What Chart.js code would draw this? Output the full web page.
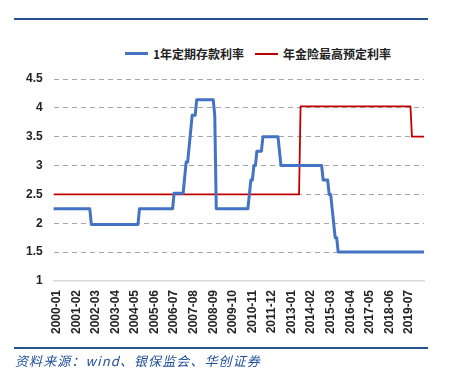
<!DOCTYPE html>
<html>
<head>
<meta charset="utf-8">
<script src="https://cdn.jsdelivr.net/npm/chart.js@4"></script>
<style>
  body { margin: 0; background: #fff; }
  #wrap { position: relative; width: 449px; height: 374px; background: #fff; overflow: hidden; }
  #chart { position: absolute; left: 0; top: 0; }
  .rule { position: absolute; left: 14px; width: 414px; height: 2px; background: #24538f; }
  #legend { position: absolute; top: 45px; left: 125px; display: flex; align-items: center;
    font: bold 12px "Noto Sans CJK SC", sans-serif; color: #222; white-space: nowrap; }
  #legend .item { display: flex; align-items: center; margin-right: 11px; }
  #legend .swatch { width: 23px; margin-right: 5px; }
  #source { position: absolute; left: 15px; top: 351px; font: italic 13px "Noto Sans CJK SC", serif;
    color: #1f4e9a; letter-spacing: 1.1px; white-space: nowrap; }
</style>
</head>
<body>
<div id="wrap">
  <div class="rule" style="top:18px"></div>
  <div id="legend"></div>
  <canvas id="chart" width="449" height="374"></canvas>
  <div class="rule" style="top:347px"></div>
  <div id="source">资料来源：wind、银保监会、华创证券</div>
</div>
<script>
// Monthly series, 2000-01 .. 2020-07 (one row per year)
const startYear = 2000;
const monthCount = 247;

const seriesNames = ["1年定期存款利率", "年金险最高预定利率"];
const seriesColors = ["#4472c4", "#c00000"];
const seriesWidths = [3, 1.8];

// 1年定期存款利率 (%)
const depositRate = [
  2.25, 2.25, 2.25, 2.25, 2.25, 2.25, 2.25, 2.25, 2.25, 2.25, 2.25, 2.25, // 2000
  2.25, 2.25, 2.25, 2.25, 2.25, 2.25, 2.25, 2.25, 2.25, 2.25, 2.25, 2.25, // 2001
  2.25, 1.98, 1.98, 1.98, 1.98, 1.98, 1.98, 1.98, 1.98, 1.98, 1.98, 1.98, // 2002
  1.98, 1.98, 1.98, 1.98, 1.98, 1.98, 1.98, 1.98, 1.98, 1.98, 1.98, 1.98, // 2003
  1.98, 1.98, 1.98, 1.98, 1.98, 1.98, 1.98, 1.98, 1.98, 2.25, 2.25, 2.25, // 2004
  2.25, 2.25, 2.25, 2.25, 2.25, 2.25, 2.25, 2.25, 2.25, 2.25, 2.25, 2.25, // 2005
  2.25, 2.25, 2.25, 2.25, 2.25, 2.25, 2.25, 2.25, 2.52, 2.52, 2.52, 2.52, // 2006
  2.52, 2.52, 2.52, 2.79, 3.06, 3.06, 3.33, 3.60, 3.87, 3.87, 3.87, 4.14, // 2007
  4.14, 4.14, 4.14, 4.14, 4.14, 4.14, 4.14, 4.14, 4.14, 4.14, 4.14, 3.87, // 2008
  2.25, 2.25, 2.25, 2.25, 2.25, 2.25, 2.25, 2.25, 2.25, 2.25, 2.25, 2.25, // 2009
  2.25, 2.25, 2.25, 2.25, 2.25, 2.25, 2.25, 2.25, 2.25, 2.25, 2.50, 2.75, // 2010
  2.75, 3.00, 3.00, 3.25, 3.25, 3.25, 3.25, 3.50, 3.50, 3.50, 3.50, 3.50, // 2011
  3.50, 3.50, 3.50, 3.50, 3.50, 3.50, 3.25, 3.00, 3.00, 3.00, 3.00, 3.00, // 2012
  3.00, 3.00, 3.00, 3.00, 3.00, 3.00, 3.00, 3.00, 3.00, 3.00, 3.00, 3.00, // 2013
  3.00, 3.00, 3.00, 3.00, 3.00, 3.00, 3.00, 3.00, 3.00, 3.00, 3.00, 2.75, // 2014
  2.75, 2.75, 2.75, 2.50, 2.50, 2.25, 2.00, 1.75, 1.75, 1.50, 1.50, 1.50, // 2015
  1.50, 1.50, 1.50, 1.50, 1.50, 1.50, 1.50, 1.50, 1.50, 1.50, 1.50, 1.50, // 2016
  1.50, 1.50, 1.50, 1.50, 1.50, 1.50, 1.50, 1.50, 1.50, 1.50, 1.50, 1.50, // 2017
  1.50, 1.50, 1.50, 1.50, 1.50, 1.50, 1.50, 1.50, 1.50, 1.50, 1.50, 1.50, // 2018
  1.50, 1.50, 1.50, 1.50, 1.50, 1.50, 1.50, 1.50, 1.50, 1.50, 1.50, 1.50, // 2019
  1.50, 1.50, 1.50, 1.50, 1.50, 1.50, 1.50                                // 2020
];

// 年金险最高预定利率 (%)
const annuityRate = [
  2.5, 2.5, 2.5, 2.5, 2.5, 2.5, 2.5, 2.5, 2.5, 2.5, 2.5, 2.5, // 2000
  2.5, 2.5, 2.5, 2.5, 2.5, 2.5, 2.5, 2.5, 2.5, 2.5, 2.5, 2.5, // 2001
  2.5, 2.5, 2.5, 2.5, 2.5, 2.5, 2.5, 2.5, 2.5, 2.5, 2.5, 2.5, // 2002
  2.5, 2.5, 2.5, 2.5, 2.5, 2.5, 2.5, 2.5, 2.5, 2.5, 2.5, 2.5, // 2003
  2.5, 2.5, 2.5, 2.5, 2.5, 2.5, 2.5, 2.5, 2.5, 2.5, 2.5, 2.5, // 2004
  2.5, 2.5, 2.5, 2.5, 2.5, 2.5, 2.5, 2.5, 2.5, 2.5, 2.5, 2.5, // 2005
  2.5, 2.5, 2.5, 2.5, 2.5, 2.5, 2.5, 2.5, 2.5, 2.5, 2.5, 2.5, // 2006
  2.5, 2.5, 2.5, 2.5, 2.5, 2.5, 2.5, 2.5, 2.5, 2.5, 2.5, 2.5, // 2007
  2.5, 2.5, 2.5, 2.5, 2.5, 2.5, 2.5, 2.5, 2.5, 2.5, 2.5, 2.5, // 2008
  2.5, 2.5, 2.5, 2.5, 2.5, 2.5, 2.5, 2.5, 2.5, 2.5, 2.5, 2.5, // 2009
  2.5, 2.5, 2.5, 2.5, 2.5, 2.5, 2.5, 2.5, 2.5, 2.5, 2.5, 2.5, // 2010
  2.5, 2.5, 2.5, 2.5, 2.5, 2.5, 2.5, 2.5, 2.5, 2.5, 2.5, 2.5, // 2011
  2.5, 2.5, 2.5, 2.5, 2.5, 2.5, 2.5, 2.5, 2.5, 2.5, 2.5, 2.5, // 2012
  2.5, 2.5, 2.5, 2.5, 2.5, 2.5, 2.5, 2.5, 4.025, 4.025, 4.025, 4.025, // 2013
  4.025, 4.025, 4.025, 4.025, 4.025, 4.025, 4.025, 4.025, 4.025, 4.025, 4.025, 4.025, // 2014
  4.025, 4.025, 4.025, 4.025, 4.025, 4.025, 4.025, 4.025, 4.025, 4.025, 4.025, 4.025, // 2015
  4.025, 4.025, 4.025, 4.025, 4.025, 4.025, 4.025, 4.025, 4.025, 4.025, 4.025, 4.025, // 2016
  4.025, 4.025, 4.025, 4.025, 4.025, 4.025, 4.025, 4.025, 4.025, 4.025, 4.025, 4.025, // 2017
  4.025, 4.025, 4.025, 4.025, 4.025, 4.025, 4.025, 4.025, 4.025, 4.025, 4.025, 4.025, // 2018
  4.025, 4.025, 4.025, 4.025, 4.025, 4.025, 4.025, 4.025, 4.025, 4.025, 3.5, 3.5,     // 2019
  3.5, 3.5, 3.5, 3.5, 3.5, 3.5, 3.5                                                  // 2020
];

// y axis
const yMin = 1;
const yMax = 4.5;
const yStep = 0.5;
// every 13th month gets a label
const labelEvery = 13;

// month labels "YYYY-MM"
const months = [];
for (let i = 0; i < monthCount; i++) {
  const y = startYear + Math.floor(i / 12);
  const m = (i % 12) + 1;
  months.push(y + "-" + (m < 10 ? "0" + m : m));
}

// html legend
const legendBox = document.getElementById("legend");
seriesNames.forEach((name, i) => {
  const item = document.createElement("div");
  item.className = "item";
  const swatch = document.createElement("div");
  swatch.className = "swatch";
  swatch.style.height = Math.max(2, Math.round(seriesWidths[i])) + "px";
  swatch.style.background = seriesColors[i];
  const text = document.createElement("span");
  text.textContent = name;
  item.appendChild(swatch);
  item.appendChild(text);
  legendBox.appendChild(item);
});

const tickFont = { family: "'Liberation Sans', sans-serif", size: 12, weight: "bold" };

new Chart(document.getElementById("chart"), {
  type: "line",
  data: {
    labels: months,
    datasets: [depositRate, annuityRate].map((values, i) => ({
      label: seriesNames[i],
      data: values,
      borderColor: seriesColors[i],
      borderWidth: seriesWidths[i],
      pointRadius: 0,
      tension: 0,
      borderJoinStyle: "round",
      fill: false,
    })),
  },
  options: {
    responsive: false,
    animation: false,
    layout: { padding: { left: 15, right: 25, top: 79, bottom: 31 } },
    plugins: { legend: { display: false }, tooltip: { enabled: false } },
    scales: {
      x: {
        offset: false,
        grid: { display: false, drawTicks: false },
        border: { display: true, color: "#d9d9d9", width: 1.5 },
        ticks: {
          autoSkip: false,
          minRotation: 90,
          maxRotation: 90,
          padding: 9,
          labelOffset: 3,
          color: "#222",
          font: tickFont,
          callback: function (value, index) {
            return index % labelEvery === 0 ? months[index] : "";
          },
        },
      },
      y: {
        min: yMin,
        max: yMax,
        grid: {
          drawTicks: false,
          color: (ctx) => (ctx.tick && ctx.tick.value === yMin ? "rgba(0,0,0,0)" : "#a6a6a6"),
          lineWidth: 1,
        },
        border: { display: false, dash: [5, 4] },
        ticks: {
          stepSize: yStep,
          padding: 11,
          color: "#222",
          font: tickFont,
          callback: (value) => String(value),
        },
      },
    },
  },
});
</script>
</body>
</html>
